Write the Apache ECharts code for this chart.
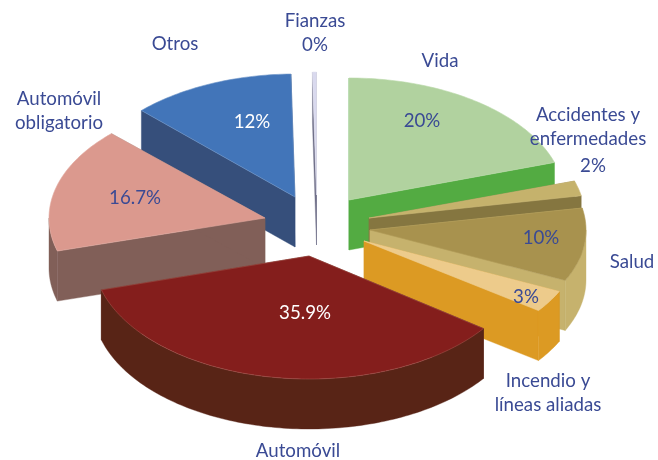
<!DOCTYPE html>
<html><head><meta charset="utf-8"><style>html,body{margin:0;padding:0;background:#fff}#c{width:658px;height:460px}</style>
<script src="https://cdn.jsdelivr.net/npm/echarts@6/dist/echarts.min.js"></script></head><body><div id="c"></div>
<script>
const categories=['Vida','Accidentes y\nenfermedades','Salud','Incendio y\nlíneas aliadas','Automóvil','Automóvil\nobligatorio','Otros','Fianzas'];
const values=[20,2,10,3,35.9,16.7,12,0.3];
const percentLabels=['20%','2%','10%','3%','35.9%','16.7%','12%','0%'];
const topColors=['#B1D29F','#C5B26C','#A8924E','#EDCB8B','#841E1C','#DB998E','#4275B9','#D9D9EE'];
const wallColors=['#53AB42','#857640','#C6B26D','#DC9A23','#582416','#815F58','#364F7B','#6F6F88'];
const edgeColors=['#B9D8A8','#CDBB78','#B09A58','#F0D298','#A5504A','#E3A99F','#6C93C8','#E4E4F2'];
const textColor='#3A4A94';
const percentColors=[textColor,textColor,textColor,textColor,'#FFFFFF',textColor,'#FFFFFF',textColor];
// layout only
const centerPt=[321,222],radiusX=216,depth=50;
const radiusYs=[122,120,118,118,123,120,123,123];
const explodeX=[28,48,49,43,-12,-56,-26,-4.5];
const explodeY=[-22,-4,8,19,34,-4,-25,-27];
const startNudgeDeg=[0,0,0,0,0,-1.5,-1,0];
const paintRank=[2,4,5,6,7,3,1,0];
const namePos=[[440,61],[588,127],[632,262],[548,393],[298,451],[59,111],[175,44],[315,21]];
const pctPos=[[422,121],[593,166],[541,238],[526,297],[305,313],[135,198],[252,122],[315,45]];

const total=values.reduce((a,b)=>a+b,0);
const startAngles=values.map((_,i)=>values.slice(0,i).reduce((a,b)=>a+b,0)/total*Math.PI*2+startNudgeDeg[i]*Math.PI/180);
function renderSlice(params,api){
  const i=params.dataIndex;
  const a0=startAngles[i], a1=i+1<values.length?startAngles[i+1]:Math.PI*2;
  const ox=centerPt[0]+explodeX[i], oy=centerPt[1]+explodeY[i], ry=radiusYs[i];
  const pt=(t,d)=>[ox+radiusX*Math.sin(t),oy-ry*Math.cos(t)+(d||0)];
  const arc=(s,e)=>{const n=Math.max(2,Math.ceil((e-s)/0.02)),r=[];for(let k=0;k<=n;k++)r.push(pt(s+(e-s)*k/n));return r;};
  const z=paintRank[i]*10, kids=[];
  const poly=(points,fill,zz,stroke,lw)=>kids.push({type:'polygon',z2:z+zz,shape:{points},style:{fill,stroke:stroke||fill,lineWidth:lw==null?0.4:lw}});
  const cut=t=>poly([[ox,oy],pt(t),pt(t,depth),[ox,oy+depth]],wallColors[i],0);
  cut(a0);cut(a1);
  const ws=Math.max(a0,Math.PI/2), we=Math.min(a1,Math.PI*1.5);
  if(we>ws){
    const top=arc(ws,we), bottom=top.map(p=>[p[0],p[1]+depth]).reverse();
    poly(top.concat(bottom),wallColors[i],1);
  }
  poly([[ox,oy]].concat(arc(a0,a1)),topColors[i],2,edgeColors[i],0.6);
  return {type:'group',children:kids};
}
function renderLabel(params,api){
  const i=params.dataIndex, kids=[];
  const txt=(text,p,fill)=>kids.push({type:'text',style:{text,x:p[0],y:p[1],fill,align:'center',verticalAlign:'middle',lineHeight:24,font:'18.7px Lato, sans-serif'}});
  txt(categories[i],namePos[i],textColor);
  txt(percentLabels[i],pctPos[i],percentColors[i]);
  return {type:'group',children:kids};
}
const chart=echarts.init(document.getElementById('c'),null,{renderer:'canvas'});
chart.setOption({animation:false,backgroundColor:'#fff',series:[
 {type:'custom',coordinateSystem:'none',renderItem:renderSlice,data:values.map(v=>[v]),z:2,silent:true},
 {type:'custom',coordinateSystem:'none',renderItem:renderLabel,data:values.map(v=>[v]),z:3,silent:true}
]});
</script></body></html>
